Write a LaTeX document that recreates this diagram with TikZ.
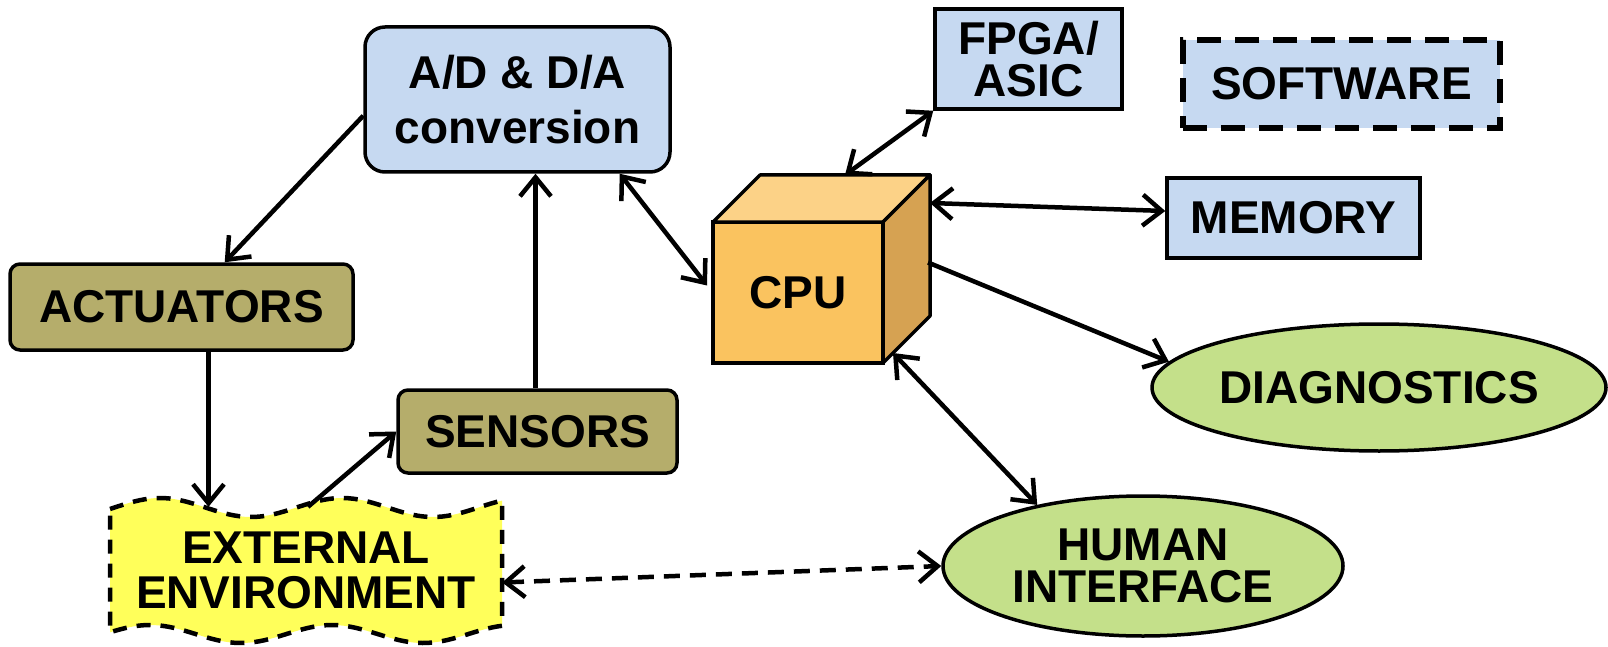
\documentclass[tikz,border=0pt]{standalone}
\usepackage{fontspec}
\setmainfont{Liberation Sans}
\usepackage{tikz}
\usetikzlibrary{arrows.meta,shapes.geometric}
\definecolor{convblue}{RGB}{198,217,241}
\definecolor{sensorolive}{RGB}{181,173,107}
\definecolor{cpufront}{RGB}{250,195,95}
\definecolor{cputop}{RGB}{252,210,135}
\definecolor{cpuside}{RGB}{214,162,82}
\definecolor{envyellow}{RGB}{255,255,90}
\definecolor{diaggreen}{RGB}{196,224,138}

\tikzset{
  txt/.style={font=\fontsize{46}{42}\selectfont\bfseries, align=center, inner sep=0pt},
  bluebox/.style={txt, draw, line width=3.5pt, fill=convblue},
  olivebox/.style={txt, draw, line width=3.5pt, fill=sensorolive, rounded corners=10pt},
  greenoval/.style={txt, ellipse, draw, line width=3.5pt, fill=diaggreen},
  link/.style={line width=4.5pt, ->},
  duplex/.style={line width=4.5pt, <->}
}

\begin{document}
\begin{tikzpicture}[x=1pt, y=-1pt, >={Straight Barb[length=19pt,width=31pt]}]
\fill[white] (0,0) rectangle (1608,647);
\useasboundingbox (0,0) rectangle (1608,647);

% Hardware blocks
\node[bluebox, rounded corners=20pt, minimum width=305pt, minimum height=145pt,
  font=\fontsize{46}{55}\selectfont\bfseries] (conv) at (517.5,99.5) {A/D \& D/A\\conversion};
\node[bluebox, minimum width=187pt, minimum height=100pt] (fpga) at (1028.5,59) {FPGA/\\ASIC};
\node[bluebox, line width=6pt, dash pattern=on 24pt off 14pt, minimum width=317pt, minimum height=88pt] (soft) at (1341.5,84) {SOFTWARE};
\node[bluebox, minimum width=253pt, minimum height=80pt] (mem) at (1293.5,218) {MEMORY};
\node[olivebox, minimum width=343pt, minimum height=86pt] (act) at (181.5,307) {ACTUATORS};
\node[olivebox, minimum width=279pt, minimum height=83pt] (sens) at (537.5,431.5) {SENSORS};
\node[greenoval, minimum width=454pt, minimum height=127pt] (diag) at (1379,387.5) {DIAGNOSTICS};
\node[greenoval, minimum width=400pt, minimum height=140pt] (hmi) at (1143,566) {HUMAN\\INTERFACE};

% CPU cube
\node[txt, draw, line width=3.5pt, outer sep=0pt, fill=cpufront, minimum width=170pt, minimum height=141pt] (cpu) at (798,292.5) {CPU};
\filldraw[fill=cputop, line width=3.5pt, line join=round] (cpu.north west) -- ++(47,-47) -- ++(170,0) -- (cpu.north east) -- cycle;
\filldraw[fill=cpuside, line width=3.5pt, line join=round] (cpu.north east) -- ++(47,-47) -- ++(0,141) -- (cpu.south east) -- cycle;

% External environment (wavy)
\filldraw[fill=envyellow, line width=4.5pt, dash pattern=on 14pt off 10pt]
  plot[domain=110:502, samples=80] (\x, {507.5-9.5*cos(1.978*(\x-160))})
  -- plot[domain=502:110, samples=80] (\x, {634-9*cos(1.978*(\x-150))}) -- cycle;
\node[txt, font=\fontsize{46}{45}\selectfont\bfseries, minimum width=392pt, minimum height=127pt] (env) at (306,570.5) {EXTERNAL\\ENVIRONMENT};

% Connectors
\draw[link] (conv.186) -- (act.46);
\draw[link] ([xshift=27pt]act.south) -- ([xshift=27pt]act.south |- env.north);
\draw[link] ([xshift=2pt]env.north) -- (sens.west);
\draw[link] ([xshift=-2pt]sens.north) -- ([xshift=-2pt]sens.north |- conv.south);
\draw[duplex] (conv.-36) -- ([xshift=-6pt, yshift=7pt]cpu.west);
\draw[duplex] ([xshift=47pt, yshift=47pt]cpu.north) -- (fpga.south west);
\draw[duplex] ([xshift=47pt, yshift=19pt]cpu.north east) -- ([yshift=7pt]mem.west);
\draw[link] ([xshift=45pt, yshift=30pt]cpu.east) -- (diag.173);
\draw[duplex] ([xshift=10pt, yshift=10pt]cpu.south east) -- (hmi.150);
\draw[duplex, dash pattern=on 16pt off 10pt] ([yshift=-12pt]env.east) -- (hmi.west);
\end{tikzpicture}
\end{document}
